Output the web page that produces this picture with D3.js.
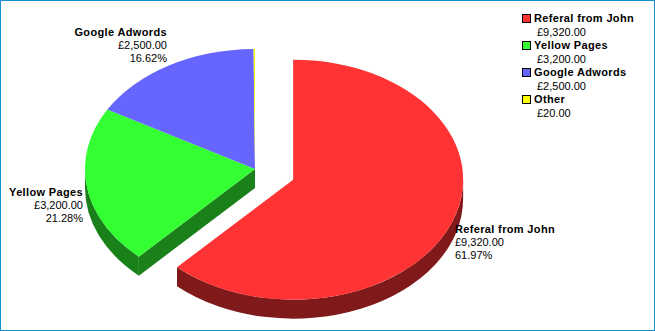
<!DOCTYPE html>
<html><head><meta charset="utf-8">
<script src="https://cdn.jsdelivr.net/npm/d3@7"></script>
<style>html,body{margin:0;padding:0;background:#fff;}svg{display:block;}</style>
</head><body>
<svg id="chart" width="655" height="331"></svg>
<script>
const categories = ["Referal from John", "Yellow Pages", "Google Adwords", "Other"];
const values = [9320, 3200, 2500, 20];
const topColors = ["#ff3333", "#33ff33", "#6666ff", "#ffff00"];
const sideColors = ["#801a1a", "#1a801a", "#33337f", "#7f7f00"];
const explodedIndex = 0;
const showLabel = [true, true, true, false];

const W = 655, H = 331;
const svg = d3.select("#chart");
svg.append("rect").attr("x", 0.5).attr("y", 0.5).attr("width", W - 1).attr("height", H - 1)
  .attr("fill", "#fff").attr("stroke", "#1690d0").attr("stroke-width", 1);

const cx = 255, cy = 169, rx = 170, ry = 120, depth = 19, explode = 41;
const total = d3.sum(values);
const money = v => "£" + d3.format(",.2f")(v);
const pct = v => d3.format(".2f")(v / total * 100) + "%";

const pie = d3.pie().sort(null).value(d => d)(values);
const n = pie.length;
const slices = pie.map((p, i) => {
  const mid = (p.startAngle + p.endAngle) / 2;
  const ox = i === explodedIndex ? explode * Math.sin(mid) : 0;
  const oy = i === explodedIndex ? -explode * Math.cos(mid) * ry / rx : 0;
  return {i, a1: p.startAngle, a2: p.endAngle, mid, c: [cx + ox, cy + oy]};
});
const pt = (c, a, dy = 0) => [c[0] + rx * Math.sin(a), c[1] - ry * Math.cos(a) + dy];

function topPath(s) {
  const p1 = pt(s.c, s.a1), p2 = pt(s.c, s.a2);
  const large = (s.a2 - s.a1) > Math.PI ? 1 : 0;
  return `M${s.c[0]},${s.c[1]}L${p1[0]},${p1[1]}A${rx},${ry} 0 ${large} 1 ${p2[0]},${p2[1]}Z`;
}
function outerWall(s) {
  const b1 = Math.max(s.a1, Math.PI / 2), b2 = Math.min(s.a2, 3 * Math.PI / 2);
  if (b1 >= b2) return null;
  const p1 = pt(s.c, b1), p2 = pt(s.c, b2), q2 = pt(s.c, b2, depth), q1 = pt(s.c, b1, depth);
  return `M${p1[0]},${p1[1]}A${rx},${ry} 0 0 1 ${p2[0]},${p2[1]}L${q2[0]},${q2[1]}A${rx},${ry} 0 0 0 ${q1[0]},${q1[1]}Z`;
}
function radialFace(s, a) {
  const p = pt(s.c, a);
  return `M${s.c[0]},${s.c[1]}L${p[0]},${p[1]}L${p[0]},${p[1] + depth}L${s.c[0]},${s.c[1] + depth}Z`;
}

const g = svg.append("g");
// side walls
slices.forEach(s => {
  const col = sideColors[s.i];
  const prevEx = (s.i - 1 + n) % n === explodedIndex || s.i === explodedIndex;
  const nextEx = (s.i + 1) % n === explodedIndex || s.i === explodedIndex;
  if (prevEx && s.a1 > Math.PI && s.a1 < 2 * Math.PI)
    g.append("path").attr("d", radialFace(s, s.a1)).attr("fill", col);
  if (nextEx && s.a2 > 0 && s.a2 < Math.PI)
    g.append("path").attr("d", radialFace(s, s.a2)).attr("fill", col);
  const w = outerWall(s);
  if (w) g.append("path").attr("d", w).attr("fill", col);
});
// tops
slices.forEach(s => {
  g.append("path").attr("d", topPath(s)).attr("fill", topColors[s.i]);
});

// labels
const font = "'Liberation Sans', Arial, Helvetica, sans-serif";
slices.forEach(s => {
  if (!showLabel[s.i]) return;
  const sn = Math.sin(s.mid), cs = Math.cos(s.mid);
  const ax = s.c[0] + (rx + 4) * sn;
  const ay = s.c[1] - ry * cs;
  const lines = [categories[s.i], money(values[s.i]), pct(values[s.i])];
  const lh = 13;
  const firstBase = cs > 0 ? ay - 3 - lh * (lines.length - 1) : ay + 9;
  const t = svg.append("text").attr("font-family", font).attr("font-size", 11)
    .attr("fill", "#000").attr("text-anchor", sn > 0 ? "start" : "end");
  lines.forEach((l, k) => {
    t.append("tspan").attr("x", ax).attr("y", firstBase + k * lh)
      .attr("font-weight", k === 0 ? "bold" : "normal")
      .attr("letter-spacing", k === 0 ? 0.35 : 0).text(l);
  });
});

// legend
const lx = 522, ly = 14, step = 27;
const leg = svg.append("g");
categories.forEach((c, i) => {
  const y = ly + i * step;
  leg.append("rect").attr("x", lx + 0.5).attr("y", y + 0.5).attr("width", 8).attr("height", 8)
    .attr("fill", topColors[i]).attr("stroke", "#000").attr("stroke-width", 1);
  leg.append("text").attr("x", lx + 12).attr("y", y + 8).attr("font-family", font)
    .attr("font-size", 11).attr("font-weight", "bold").attr("letter-spacing", 0.35)
    .attr("fill", "#000").text(c);
  leg.append("text").attr("x", lx + 15).attr("y", y + 21.5).attr("font-family", font)
    .attr("font-size", 11).attr("fill", "#000").text(money(values[i]));
});
</script>
</body></html>
